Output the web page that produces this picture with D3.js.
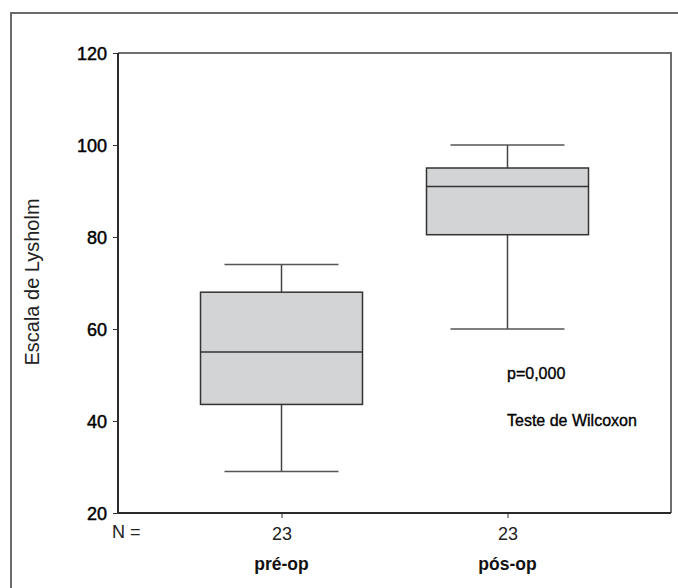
<!DOCTYPE html>
<html>
<head>
<meta charset="utf-8">
<script src="https://cdn.jsdelivr.net/npm/d3@7"></script>
<style>
  html, body { margin: 0; padding: 0; background: #fff; }
  svg { display: block; font-family: "Liberation Sans", Arial, sans-serif; }
</style>
</head>
<body>
<svg id="chart" width="678" height="588"></svg>
<script>
// ---- data ----
const categories = ["pré-op", "pós-op"];
const nValues = [23, 23];
const whiskerLow = [29, 60];
const q1 = [43.6, 80.5];
const median = [55, 91];
const q3 = [68, 95];
const whiskerHigh = [74, 100];
const yTicks = [20, 40, 60, 80, 100, 120];
const yLabel = "Escala de Lysholm";
const annotations = ["p=0,000", "Teste de Wilcoxon"];

(function () {
const svg = d3.select("#chart");
const pLeft = 118, pRight = 671, pTop = 53, pBottom = 513;

const y = d3.scaleLinear().domain([20, 120]).range([pBottom, pTop]);
const x = d3.scalePoint().domain(categories).range([pLeft, pRight]).padding(0.7235);

// outer frame
svg.append("rect").attr("x", 11).attr("y", 13).attr("width", 700).attr("height", 620)
  .attr("fill", "none").attr("stroke", "#6a6a6a").attr("stroke-width", 2);

// plot frame top/right
svg.append("path").attr("d", `M${pLeft},${pTop}H${pRight}V${pBottom}`)
  .attr("fill", "none").attr("stroke", "#6e6e6e").attr("stroke-width", 2);

// y axis
const yAxis = svg.append("g").attr("transform", `translate(${pLeft},0)`)
  .call(d3.axisLeft(y).tickValues(yTicks).tickSize(5).tickPadding(6).tickFormat(d3.format("d")));
yAxis.select(".domain").remove();
yAxis.selectAll(".tick line").attr("stroke", "#333").attr("stroke-width", 1);
yAxis.selectAll(".tick text").attr("font-size", 18).attr("fill", "#000")
  .attr("stroke", "#000").attr("stroke-width", 0.45)
  .attr("font-family", "Liberation Sans, Arial, sans-serif").attr("dy", "0.36em");

// x axis
const xAxis = svg.append("g").attr("transform", `translate(0,${pBottom})`)
  .call(d3.axisBottom(x).tickSize(5).tickFormat((d, i) => nValues[i]).tickPadding(9));
xAxis.select(".domain").remove();
xAxis.selectAll(".tick line").attr("stroke", "#333").attr("stroke-width", 1);
xAxis.selectAll(".tick text").attr("font-size", 18).attr("fill", "#222")
  .attr("font-family", "Liberation Sans, Arial, sans-serif");

// axis lines left & bottom
svg.append("path").attr("d", `M${pLeft},${pTop}V${pBottom}H${pRight}`)
  .attr("fill", "none").attr("stroke", "#2a2a2a").attr("stroke-width", 2);

// N =
svg.append("text").attr("x", 112).attr("y", 538).attr("font-size", 18).attr("fill", "#222").text("N =");

// category labels
svg.selectAll(".cat").data(categories).join("text")
  .attr("x", d => x(d)).attr("y", 570).attr("text-anchor", "middle")
  .attr("font-size", 17.5).attr("font-weight", "bold").attr("fill", "#111").text(d => d);

// boxes
const boxHalf = 81, capHalf = 57;
const g = svg.append("g");
categories.forEach((c, i) => {
  const cx = x(c);
  g.append("line").attr("x1", cx).attr("x2", cx).attr("y1", y(whiskerHigh[i])).attr("y2", y(q3[i]))
    .attr("stroke", "#444").attr("stroke-width", 1.5);
  g.append("line").attr("x1", cx).attr("x2", cx).attr("y1", y(q1[i])).attr("y2", y(whiskerLow[i]))
    .attr("stroke", "#444").attr("stroke-width", 1.5);
  g.append("line").attr("x1", cx - capHalf).attr("x2", cx + capHalf).attr("y1", y(whiskerHigh[i])).attr("y2", y(whiskerHigh[i]))
    .attr("stroke", "#555").attr("stroke-width", 1.5);
  g.append("line").attr("x1", cx - capHalf).attr("x2", cx + capHalf).attr("y1", y(whiskerLow[i])).attr("y2", y(whiskerLow[i]))
    .attr("stroke", "#555").attr("stroke-width", 1.5);
  g.append("rect").attr("x", cx - boxHalf).attr("width", 2 * boxHalf)
    .attr("y", y(q3[i])).attr("height", y(q1[i]) - y(q3[i]))
    .attr("fill", "#d3d4d6").attr("stroke", "#333").attr("stroke-width", 1.5);
  g.append("line").attr("x1", cx - boxHalf).attr("x2", cx + boxHalf).attr("y1", y(median[i])).attr("y2", y(median[i]))
    .attr("stroke", "#333").attr("stroke-width", 1.5);
});

// y label
svg.append("text").attr("transform", "translate(39,282) rotate(-90)")
  .attr("text-anchor", "middle").attr("font-size", 20).attr("fill", "#222").text(yLabel);

// annotations
svg.append("text").attr("x", 507).attr("y", 379).attr("font-size", 16).attr("fill", "#000")
  .attr("stroke", "#000").attr("stroke-width", 0.35).text(annotations[0]);
svg.append("text").attr("x", 507).attr("y", 426).attr("font-size", 16).attr("fill", "#000")
  .attr("stroke", "#000").attr("stroke-width", 0.35).text(annotations[1]);
})();
</script>
</body>
</html>
